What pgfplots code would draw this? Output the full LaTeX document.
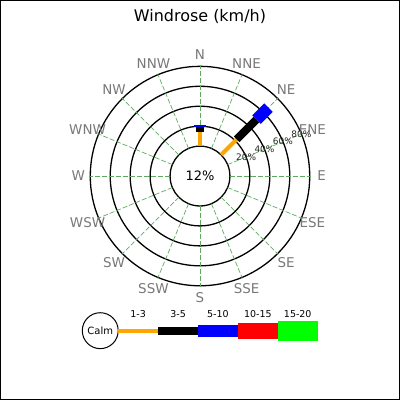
\documentclass[border=0pt]{standalone}
\usepackage{fontspec}
\setmainfont{DejaVu Sans}
\usepackage{pgfplots}
\pgfplotsset{compat=1.18}
\usetikzlibrary{calc}

\definecolor{spoke}{RGB}{95,170,95}
\definecolor{dirgray}{RGB}{120,120,120}
\definecolor{c13}{RGB}{255,165,0}
\definecolor{c35}{RGB}{0,0,0}
\definecolor{c510}{RGB}{0,0,255}
\definecolor{c1015}{RGB}{255,0,0}
\definecolor{c1520}{RGB}{0,255,0}

\begin{document}
\begin{tikzpicture}
  \begin{axis}[
      x=1bp, y=1bp,
      xmin=-200, xmax=200, ymin=-224, ymax=176,
      ticks=none,
      axis line style={line width=1bp},
      clip=false,
    ]
    \coordinate (O) at (axis cs:0,0);
    % rings: calm circle (0%) at r=30, then 20% per 20 units
    \pgfplotsinvokeforeach{30,50,70,90,110}{
      \draw[line width=1.3bp] (axis cs:0,0) circle[radius=#1 bp];
    }
    % spokes
    \pgfplotsinvokeforeach{0,22.5,45,67.5,90,112.5,135,157.5,180,202.5,225,247.5,270,292.5,315,337.5}{
      \draw[spoke, line width=0.7bp, dash pattern=on 5bp off 2bp]
        (axis cs:0,0) ++(#1:30bp) -- ++(#1:81bp);
    }
    \node[font=\fontsize{13bp}{15bp}\selectfont] at (axis cs:0,0) {12\%};
    \node[font=\fontsize{16bp}{18bp}\selectfont] at (axis cs:0,160) {Windrose (km/h)};

    % bars: (direction angle, 30 + cumulative percent)
    % N
    \addplot[c13, line width=4bp, data cs=polar] coordinates {(90,30) (90,44)};
    \addplot[c35, line width=8bp, data cs=polar] coordinates {(90,44) (90,49)};
    \addplot[c510, line width=12bp, data cs=polar] coordinates {(90,49) (90,51)};
    % NE
    \addplot[c13, line width=4bp, data cs=polar] coordinates {(45,30) (45,52)};
    \addplot[c35, line width=8bp, data cs=polar] coordinates {(45,52) (45,80)};
    \addplot[c510, line width=12bp, data cs=polar] coordinates {(45,80) (45,97)};

    % legend
    \draw[line width=1bp, fill=white] (axis cs:-100,-155) circle[radius=18bp];
    \node[font=\fontsize{10bp}{12bp}\selectfont] at (axis cs:-100,-155) {Calm};
    \addplot[c13, line width=4bp] coordinates {(-82,-155) (-42,-155)};
    \addplot[c35, line width=8bp] coordinates {(-42,-155) (-2,-155)};
    \addplot[c510, line width=12bp] coordinates {(-2,-155) (38,-155)};
    \addplot[c1015, line width=16bp] coordinates {(38,-155) (78,-155)};
    \addplot[c1520, line width=20bp] coordinates {(78,-155) (118,-155)};
  \end{axis}
  % compass labels
  \foreach \n [count=\i from 0] in {N,NNE,NE,ENE,E,ESE,SE,SSE,S,SSW,SW,WSW,W,WNW,NW,NNW}
    \node[dirgray, font=\fontsize{13.5bp}{15bp}\selectfont]
      at ($(O)+({90-22.5*\i}:122bp)$) {\n};
  % ring labels along ENE
  \foreach \r/\t in {50/20,70/40,90/60,110/80}
    \node[black!85, font=\fontsize{9bp}{11bp}\selectfont]
      at ($(O)+(22.5:\r bp)$) {\t\%};
  % legend labels
  \foreach \x/\t in {-62/1-3,-22/3-5,18/5-10,58/10-15,98/15-20}
    \node[font=\fontsize{9.5bp}{11bp}\selectfont] at ($(O)+(\x bp,-138bp)$) {\t};
\end{tikzpicture}
\end{document}
